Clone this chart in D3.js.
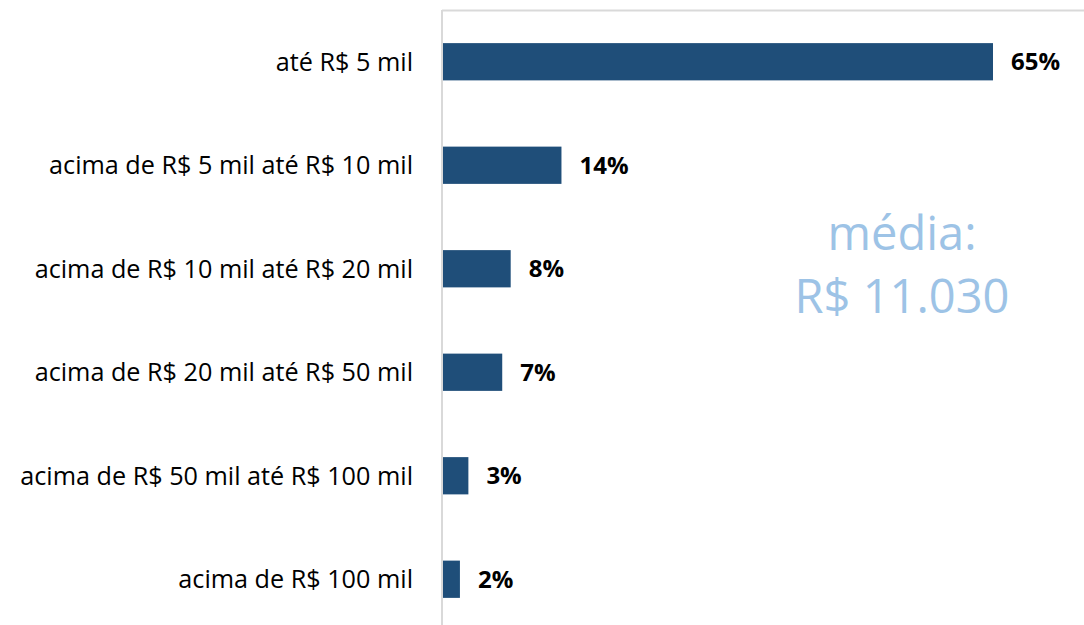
<!DOCTYPE html>
<html>
<head>
<meta charset="utf-8">
<script src="https://cdn.jsdelivr.net/npm/d3@7"></script>
<style>
  body { margin: 0; background: #fff; }
  svg { display: block; }
</style>
</head>
<body>
<script>
var categories = [
  "até R$ 5 mil",
  "acima de R$ 5 mil até R$ 10 mil",
  "acima de R$ 10 mil até R$ 20 mil",
  "acima de R$ 20 mil até R$ 50 mil",
  "acima de R$ 50 mil até R$ 100 mil",
  "acima de R$ 100 mil"
];
var values = [65, 14, 8, 7, 3, 2];
var noteLines = ["média:", "R$ 11.030"];

var w = 1084;
var h = 625;
var x0 = 442;
var font = "'Open Sans', sans-serif";

var svg = d3.select("body")
  .append("svg")
  .attr("width", w)
  .attr("height", h);

var x = d3.scaleLinear()
  .domain([0, 65])
  .range([x0 + 1, 993]);

var y = d3.scaleBand()
  .domain(categories)
  .range([10, 631])
  .paddingInner(0.64)
  .paddingOuter(0.32);

// frame lines
svg.append("line")
  .attr("x1", x0).attr("x2", w)
  .attr("y1", 10.5).attr("y2", 10.5)
  .attr("stroke", "#d9d9d9")
  .attr("stroke-width", 2);

svg.append("line")
  .attr("x1", x0).attr("x2", x0)
  .attr("y1", 10).attr("y2", h)
  .attr("stroke", "#d9d9d9")
  .attr("stroke-width", 2);

// bars
svg.selectAll("rect.bar")
  .data(values)
  .enter()
  .append("rect")
  .attr("class", "bar")
  .attr("x", x(0))
  .attr("y", function(d, i) { return y(categories[i]); })
  .attr("width", function(d) { return x(d) - x(0); })
  .attr("height", y.bandwidth())
  .attr("fill", "#1f4e79");

// value labels
svg.selectAll("text.val")
  .data(values)
  .enter()
  .append("text")
  .attr("class", "val")
  .attr("x", function(d) { return x(d) + 18; })
  .attr("y", function(d, i) { return y(categories[i]) + y.bandwidth() / 2; })
  .attr("dy", "0.36em")
  .attr("font-family", font)
  .attr("font-weight", "bold")
  .attr("font-size", 24)
  .attr("fill", "#000")
  .text(function(d) { return d + "%"; });

// category labels
svg.selectAll("text.cat")
  .data(categories)
  .enter()
  .append("text")
  .attr("class", "cat")
  .attr("x", 413)
  .attr("y", function(d) { return y(d) + y.bandwidth() / 2; })
  .attr("dy", "0.36em")
  .attr("text-anchor", "end")
  .attr("font-family", font)
  .attr("font-size", 25.2)
  .attr("fill", "#000")
  .text(function(d) { return d; });

// average note
svg.selectAll("text.note")
  .data(noteLines)
  .enter()
  .append("text")
  .attr("class", "note")
  .attr("x", 902)
  .attr("y", function(d, i) { return 250 + i * 63; })
  .attr("text-anchor", "middle")
  .attr("font-family", font)
  .attr("font-size", 47)
  .attr("fill", "#9dc3e6")
  .text(function(d) { return d; });
</script>
</body>
</html>
